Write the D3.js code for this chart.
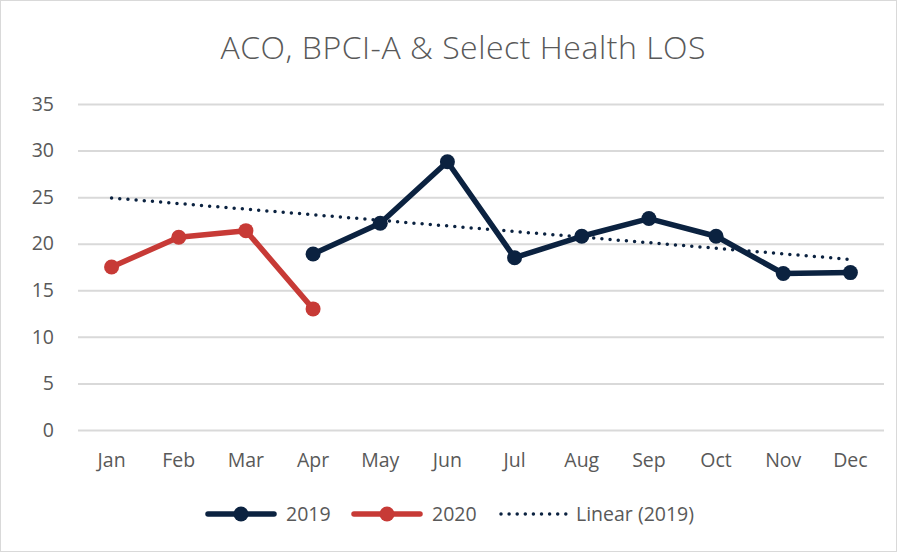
<!DOCTYPE html>
<html><head><meta charset="utf-8">
<script src="https://cdn.jsdelivr.net/npm/d3@7"></script>
<style>body{margin:0;background:#fff}svg{display:block}text{font-family:"Open Sans",Lato,sans-serif}</style>
</head><body><svg id="c" width="897" height="552"></svg>
<script>
const months = ["Jan","Feb","Mar","Apr","May","Jun","Jul","Aug","Sep","Oct","Nov","Dec"];
const values2019 = [null,null,null,18.9,22.2,28.8,18.5,20.8,22.7,20.8,16.8,16.9];
const values2020 = [17.5,20.7,21.4,13.0,null,null,null,null,null,null,null,null];
const yTicks = [0,5,10,15,20,25,30,35];
const title = "ACO, BPCI-A & Select Health LOS";
const legendLabels = ["2019","2020","Linear (2019)"];

const navy = "#0b2240", red = "#c73a36", grid = "#d9d9d9", txt = "#595959";
const svg = d3.select("#c");
svg.append("rect").attr("x",0.5).attr("y",0.5).attr("width",896).attr("height",551)
  .attr("fill","#fff").attr("stroke","#d9d9d9");

const x = d3.scaleBand().domain(months).range([78,884]);
const y = d3.scaleLinear().domain([0,35]).range([430,104]);
const cx = m => x(m) + x.bandwidth()/2;

svg.append("text").attr("x",463).attr("y",59).attr("text-anchor","middle")
  .attr("font-size",32).attr("font-weight",300).attr("fill",txt)
  .attr("textLength",485).attr("lengthAdjust","spacing").text(title);

const yAxis = d3.axisLeft(y).tickValues(yTicks).tickSize(-(884-78)).tickPadding(24);
const gy = svg.append("g").attr("transform","translate(78,0)").call(yAxis);
gy.select(".domain").remove();
gy.selectAll(".tick line").attr("stroke",grid).attr("stroke-width",2);
gy.selectAll(".tick text").attr("fill",txt).attr("font-size",19.5).attr("font-family","'Open Sans',sans-serif");

const xAxis = d3.axisBottom(x).tickSize(0).tickPadding(23);
const gx = svg.append("g").attr("transform","translate(0,430)").call(xAxis);
gx.select(".domain").remove();
gx.selectAll(".tick text").attr("fill",txt).attr("font-size",19.5).attr("font-family","'Open Sans',sans-serif");

// Linear trendline of 2019 (least squares on category index)
const pts = values2019.map((v,i)=>({i,v})).filter(d=>d.v!=null);
const mx = d3.mean(pts,d=>d.i), my = d3.mean(pts,d=>d.v);
const slope = d3.sum(pts,d=>(d.i-mx)*(d.v-my))/d3.sum(pts,d=>(d.i-mx)**2);
const trend = i => my + slope*(i-mx);
svg.append("line")
  .attr("x1",cx(months[0])).attr("y1",y(trend(0)))
  .attr("x2",cx(months[11])).attr("y2",y(trend(11)))
  .attr("stroke",navy).attr("stroke-width",3.5).attr("stroke-linecap","round")
  .attr("stroke-dasharray","0,8.2");

function series(vals,color){
  const data = vals.map((v,i)=>({m:months[i],v})).filter(d=>d.v!=null);
  svg.append("path").datum(data)
    .attr("d",d3.line().x(d=>cx(d.m)).y(d=>y(d.v)))
    .attr("fill","none").attr("stroke",color).attr("stroke-width",5.5).attr("stroke-linejoin","round").attr("stroke-linecap","round");
  svg.selectAll(null).data(data).enter().append("circle")
    .attr("cx",d=>cx(d.m)).attr("cy",d=>y(d.v)).attr("r",7.5).attr("fill",color);
}
series(values2019,navy);
series(values2020,red);

// Legend
const ly = 514;
const lg = svg.append("g");
[[208,navy,legendLabels[0]],[354,red,legendLabels[1]]].forEach(([x0,c,t])=>{
  lg.append("line").attr("x1",x0).attr("x2",x0+66).attr("y1",ly).attr("y2",ly)
    .attr("stroke",c).attr("stroke-width",5.5).attr("stroke-linecap","round");
  lg.append("circle").attr("cx",x0+33).attr("cy",ly).attr("r",7.5).attr("fill",c);
  lg.append("text").attr("x",x0+78).attr("y",ly+7).attr("font-size",19.5).attr("fill",txt).text(t);
});
lg.append("line").attr("x1",501).attr("x2",566).attr("y1",ly).attr("y2",ly)
  .attr("stroke",navy).attr("stroke-width",3.5).attr("stroke-linecap","round").attr("stroke-dasharray","0,8.1");
lg.append("text").attr("x",576).attr("y",ly+7).attr("font-size",19.5).attr("fill",txt).text(legendLabels[2]);
</script></body></html>
